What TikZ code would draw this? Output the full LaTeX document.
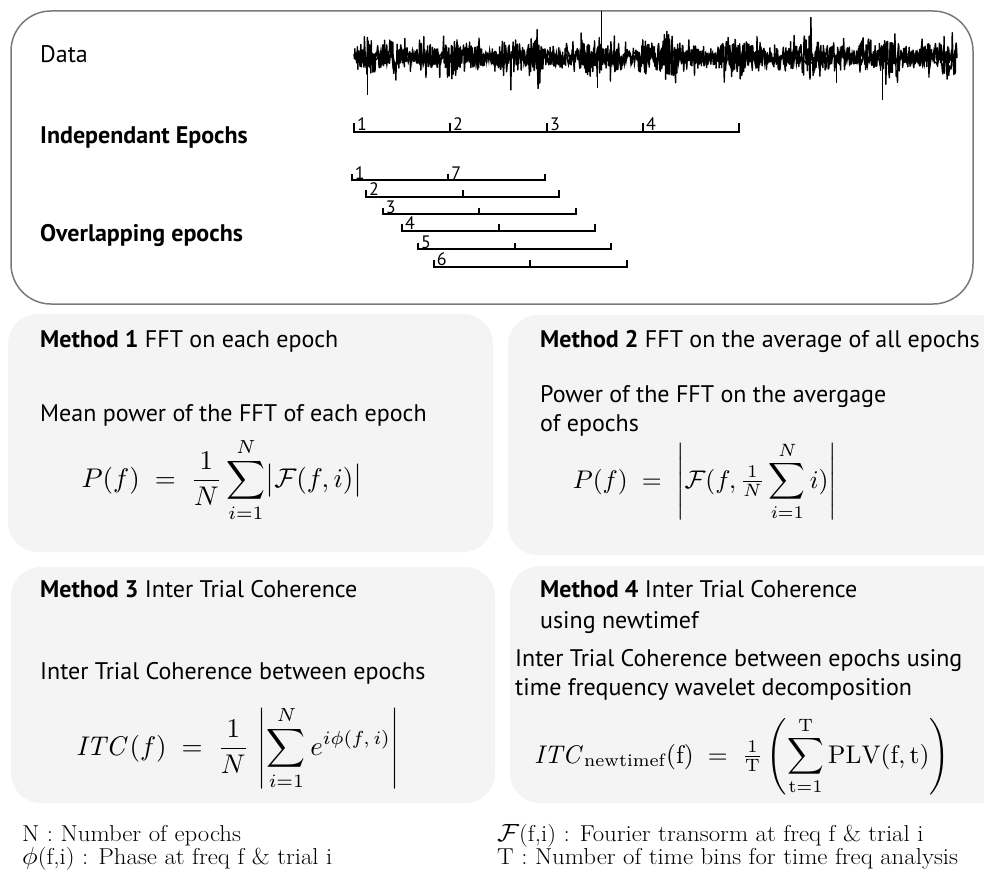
\documentclass[tikz,border=0pt]{standalone}
\usepackage{amsmath}
\usepackage{fontspec}
\newfontfamily\ssf{PT Sans}
\definecolor{methbg}{HTML}{F4F4F4}
\definecolor{boxline}{HTML}{7A7A7A}
\newcommand{\footx}[1]{\scalebox{1.08}[1]{#1}}
\begin{document}
\begin{tikzpicture}[x=1pt,y=-1pt,
  lbl/.style={font=\ssf\fontsize{24}{28}\selectfont, anchor=base west, inner sep=0pt},
  hdr/.style={font=\ssf\fontsize{24}{28}\selectfont, anchor=base west, inner sep=0pt},
  num/.style={font=\ssf\fontsize{18}{20}\selectfont, anchor=base west, inner sep=0pt},
  foot/.style={font=\fontsize{23}{25}\selectfont, anchor=base west, inner sep=0pt},
  frm/.style={inner sep=0pt},
  ep/.style={line width=2pt, line cap=butt},
  methbox/.style={fill=methbg, rounded corners=30pt}]
\useasboundingbox (0,0) rectangle (984,883);
\fill[white] (0,0) rectangle (984,883);
\begin{scope}
\clip (0,0) rectangle (984,883);
% method boxes
\fill[methbox] (8,314) rectangle (493,552);
\fill[methbox] (508,315) rectangle (1010,555);
\fill[methbox] (11,567) rectangle (495,803);
\fill[methbox] (510,566) rectangle (1010,803);
\end{scope}
% top box
\draw[boxline, line width=1.5pt, rounded corners=40pt] (11,11) rectangle (973,304);
% signal
\pgfmathsetseed{4242}
\draw[line width=1.4pt, line join=round] plot[samples=1400, domain=354:957, variable=\x]
  (\x, {57 + (13+5*sin(\x*5)+4*sin(\x*13))*rand - 24*rand*rand*rand});
\draw[line width=1.4pt] plot[samples=700, domain=356:955, variable=\x]
  (\x, {58 + 7*rand});
\draw[line width=1pt] (367,58) -- (367,95);
\draw[line width=1pt] (597,58) -- (597,88);
\draw[line width=1pt] (882,60) -- (882,100);
\draw[line width=1pt] (836,58) -- (836,83);
\draw[line width=0.6pt] (601,11) -- (601,55);
% labels
\node[lbl] (data) at (40,63) {Data};
\node[lbl] (indep) at (40,143) {\bfseries Independant Epochs};
\node[lbl] (overl) at (40,241) {\bfseries Overlapping epochs};
% independent epochs
\draw[ep] (354,123) |- (739,131.5) -- (739,123);
\foreach \t [count=\i] in {354,450,547,643}{
  \draw[ep] (\t,123) -- (\t,131.5);
  \node[num] (ie\i) at (\t+3,130) {\i};
}
% overlapping epochs
\foreach \s/\yy [count=\i] in {351.7/180,366/196.7,382.7/214,402/230.7,418/249,433.7/266.7}{
  \draw[ep] (\s,\yy-6.5) |- (\s+193,\yy) -- (\s+193,\yy-6.5);
  \draw[ep] (\s+96.5,\yy-6.5) -- (\s+96.5,\yy);
  \node[num] (oe\i) at (\s+3,\yy-1) {\i};
}
\node[num] (oe7) at (351.7+96.5+3,179) {7};
% Method 1
\node[hdr] (m1h) at (40,347) {\bfseries Method 1\mdseries\ FFT on each epoch};
\node[lbl] (m1t) at (40,421) {Mean power of the FFT of each epoch};
\node[frm] (m1f) at (222,480) {\scalebox{2.7}{$\displaystyle P(f) \;=\; \frac{1}{N}\sum_{i=1}^{N}\bigl|\mathcal{F}(f,i)\bigr|$}};
% Method 2
\node[hdr] (m2h) at (540,347) {\bfseries Method 2\mdseries\ FFT on the average of all epochs};
\node[lbl] (m2t) at (540,402) {Power of the FFT on the avergage};
\node[lbl] (m2u) at (540,431) {of epochs};
\node[frm] (m2f) at (705,481) {\scalebox{2.55}{$\displaystyle P(f) \;=\; \left|\mathcal{F}(f,\tfrac{1}{N}\sum_{i=1}^{N} i)\right|$}};
% Method 3
\node[hdr] (m3h) at (40,597) {\bfseries Method 3\mdseries\ Inter Trial Coherence};
\node[lbl] (m3t) at (40,679) {Inter Trial Coherence between epochs};
\node[frm] (m3f) at (238,748) {\scalebox{2.7}{$\displaystyle \mathit{ITC}\,(f) \;=\; \frac{1}{N}\,\left|\sum_{i=1}^{N} e^{i\phi(f,\,i)}\right|$}};
% Method 4
\node[hdr] (m4h) at (540,597) {\bfseries Method 4\mdseries\ Inter Trial Coherence};
\node[hdr] (m4u) at (540,628) {using newtimef};
\node[lbl] (m4t) at (515,666) {Inter Trial Coherence between epochs using};
\node[lbl] (m4v) at (515,695) {time frequency wavelet decomposition};
\node[frm] (m4f) at (742,756) {\scalebox{2.55}{$\displaystyle \mathit{ITC}_{\,\mathrm{newtimef}}(\mathrm{f}) \;=\; \tfrac{1}{\mathrm{T}}\left(\sum_{\mathrm{t}=1}^{\mathrm{T}}\mathrm{PLV}(\mathrm{f},\mathrm{t})\right)$}};
% footer
\node[foot] (f1) at (22,841) {\footx{N : Number of epochs}};
\node[foot] (f2) at (22,864) {\footx{$\phi$(f,i) : Phase at freq f \& trial i}};
\node[foot] (f3) at (497,841) {\footx{$\mathcal{F}$(f,i) : Fourier transorm at freq f \& trial i}};
\node[foot] (f4) at (497,864) {\footx{T : Number of time bins for time freq analysis}};
\end{tikzpicture}
\end{document}
